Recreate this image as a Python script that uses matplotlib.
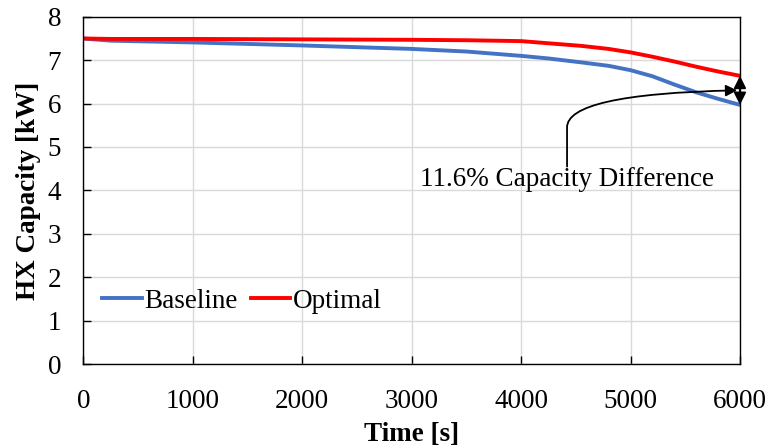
import matplotlib
matplotlib.use("Agg")
import matplotlib.pyplot as plt
from matplotlib.patches import FancyArrowPatch
from matplotlib.path import Path

# Heat exchanger capacity over time
time_s = [0, 250, 1000, 2000, 3000, 3500, 4000, 4250, 4550, 4800, 5000, 5200, 5400, 5600, 5800, 6000]
baseline_kw = [7.50, 7.45, 7.41, 7.34, 7.26, 7.20, 7.10, 7.04, 6.95, 6.87, 6.77, 6.63, 6.44, 6.26, 6.11, 5.97]
optimal_kw = [7.50, 7.49, 7.49, 7.48, 7.47, 7.46, 7.44, 7.39, 7.33, 7.26, 7.18, 7.08, 6.97, 6.85, 6.74, 6.64]

x_ticks = [0, 1000, 2000, 3000, 4000, 5000, 6000]
y_ticks = [0, 1, 2, 3, 4, 5, 6, 7, 8]
diff_label = "11.6% Capacity Difference"

plt.rcParams["font.family"] = ["Liberation Serif", "DejaVu Serif"]
plt.rcParams["font.size"] = 19.5

fig = plt.figure(figsize=(7.7, 4.48), dpi=100)
ax = fig.add_axes([0.1082, 0.1875, 0.8528, 0.775])

ax.plot(time_s, baseline_kw, color="#4472C4", lw=2.8, label="Baseline")
ax.plot(time_s, optimal_kw, color="#FF0000", lw=2.8, label="Optimal")

ax.set_xlim(0, 6000)
ax.set_ylim(0, 8)
ax.set_xticks(x_ticks)
ax.set_yticks(y_ticks)
ax.grid(True, color="#d9d9d9", lw=1.0)
ax.set_axisbelow(True)
ax.tick_params(axis="x", direction="in", length=6, width=1, pad=18)
ax.tick_params(axis="y", direction="in", length=6, width=1, pad=16)
for s in ax.spines.values():
    s.set_color("black")
    s.set_linewidth(1.0)

ax.set_xlabel("Time [s]", fontweight="bold", labelpad=6)
ax.set_ylabel("HX Capacity [kW]", fontweight="bold", labelpad=5)

# Double-headed arrow spanning the gap at the final time
end_t = time_s[-1]
gap = FancyArrowPatch((end_t, baseline_kw[-1]), (end_t, optimal_kw[-1]),
                      arrowstyle="<|-|>", mutation_scale=18, color="black", lw=1.5,
                      shrinkA=0, shrinkB=0, zorder=5, clip_on=False)
ax.add_patch(gap)

# Curved leader from the label to the gap
mid = (baseline_kw[-1] + optimal_kw[-1]) / 2
leader_path = Path([(4420, 4.55), (4420, 5.45), (4420, 5.95), (4900, 6.25), (end_t - 25, mid)],
                   [Path.MOVETO, Path.LINETO, Path.CURVE4, Path.CURVE4, Path.CURVE4])
leader = FancyArrowPatch(path=leader_path, arrowstyle="-|>", mutation_scale=17,
                         color="black", lw=1.3, zorder=5, clip_on=False)
ax.add_patch(leader)
ax.text(4424, 4.24, diff_label, ha="center", va="center", zorder=6)

ax.legend(loc="lower left", bbox_to_anchor=(0.0, 0.09), ncol=2, frameon=False,
          handlelength=1.45, handletextpad=0.1, columnspacing=0.5, borderaxespad=0.3)

fig.savefig("out.png", dpi=100)
